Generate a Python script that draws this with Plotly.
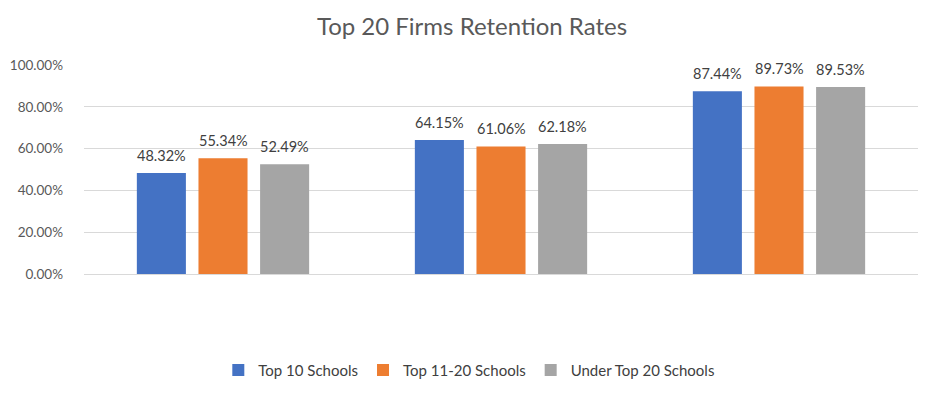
import plotly.graph_objects as go

categories = ["Group 1", "Group 2", "Group 3"]
series_names = ["Top 10 Schools", "Top 11-20 Schools", "Under Top 20 Schools"]
top10 = [0.4832, 0.6415, 0.8744]
top11_20 = [0.5534, 0.6106, 0.8973]
under20 = [0.5249, 0.6218, 0.8953]
colors = ["#4472C4", "#ED7D31", "#A5A5A5"]
y_ticks = [0, 0.2, 0.4, 0.6, 0.8, 1.0]

FONT = "Lato, 'Open Sans', sans-serif"
BARGAP = 0.335
GROUPGAP = 0.204

fig = go.Figure()
all_series = [top10, top11_20, under20]
n = len(all_series)
slot = (1 - BARGAP) / n
for k, (name, vals, col) in enumerate(zip(series_names, all_series, colors)):
    fig.add_trace(go.Bar(
        x=categories, y=vals, name=name,
        marker=dict(color=col, line=dict(width=0)),
        cliponaxis=False,
    ))
    off = (k - (n - 1) / 2) * slot
    for i, v in enumerate(vals):
        fig.add_annotation(x=i + off, y=v, xref="x", yref="y",
                           text=f"{v*100:.2f}%", showarrow=False,
                           yanchor="bottom", yshift=7,
                           font=dict(size=14.5, color="#404040", family=FONT))

# page body has an 8px margin, so the figure is sized to fit 936x398
W, H = 928, 390
fig.update_layout(
    width=W, height=H,
    paper_bgcolor="white", plot_bgcolor="white",
    margin=dict(l=76, r=18, t=57, b=124, autoexpand=False),
    barmode="group", bargap=BARGAP, bargroupgap=GROUPGAP,
    title=dict(text="Top 20 Firms Retention Rates", x=0.5, xanchor="center",
               y=1 - 19 / H, yanchor="middle",
               font=dict(size=24, color="#595959", family=FONT)),
    font=dict(family=FONT, color="#595959"),
    showlegend=True,
    legend=dict(orientation="h", x=0.462, xanchor="center", y=-0.46, yanchor="middle",
                font=dict(size=15, color="#404040", family=FONT),
                itemwidth=30, traceorder="normal"),
)
fig.update_xaxes(type="category", showticklabels=False, showgrid=False, showline=True,
                 linecolor="#D9D9D9", linewidth=1, ticks="", range=[-0.5, 2.5],
                 automargin=False)
fig.update_yaxes(range=[0, 1.0], tickvals=y_ticks, tickformat=".2%",
                 showgrid=True, gridcolor="#D9D9D9", gridwidth=1,
                 zeroline=False, showline=False, ticks="", ticklabelstandoff=20,
                 automargin=False,
                 tickfont=dict(size=13.5, color="#595959", family=FONT))

fig.write_html("out.html")
